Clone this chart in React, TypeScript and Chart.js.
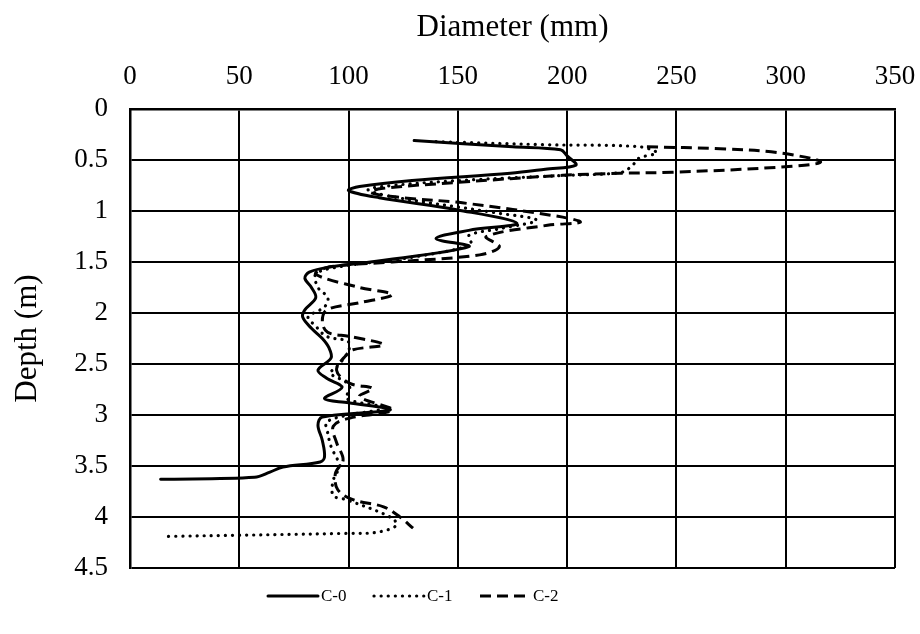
import React, { useEffect, useRef } from "react";
import { Chart, registerables } from "chart.js";

Chart.register(...registerables);

// C-0 (solid)
const c0Depth = [0.31, 0.37, 0.40, 0.46, 0.55, 0.59, 0.63, 0.70, 0.76, 0.80, 0.87, 0.99, 1.12, 1.19, 1.27, 1.35, 1.50, 1.55, 1.60, 1.66, 1.75, 1.85, 1.97, 2.04, 2.15, 2.25, 2.34, 2.44, 2.56, 2.64, 2.73, 2.84, 2.88, 2.95, 3.02, 3.10, 3.25, 3.41, 3.46, 3.51, 3.56, 3.61, 3.63];
const c0Diameter = [130, 175, 197, 200, 204, 190, 174, 129, 105, 100, 114, 150, 177, 155, 140, 155, 110, 91, 82, 80, 83, 85, 80, 79, 83, 88, 91, 92, 86, 90, 97, 89, 100, 119, 88, 86, 88, 89, 87, 70, 64, 57, 14];

// C-1 (dotted)
const c1Depth = [0.32, 0.35, 0.37, 0.43, 0.48, 0.55, 0.62, 0.65, 0.69, 0.74, 0.79, 0.86, 1.02, 1.09, 1.17, 1.24, 1.33, 1.45, 1.55, 1.62, 1.75, 1.85, 1.94, 2.04, 2.12, 2.23, 2.27, 2.31, 2.41, 2.54, 2.59, 2.68, 2.74, 2.84, 2.93, 3.00, 3.07, 3.18, 3.31, 3.44, 3.50, 3.64, 3.79, 3.83, 4.00, 4.08, 4.15, 4.16, 4.19];
const c1Diameter = [140, 190, 233, 241, 233, 230, 225, 200, 160, 125, 109, 120, 168, 186, 170, 155, 156, 130, 95, 85, 86, 90.5, 89, 81.5, 84.6, 90, 99, 100.6, 99, 94, 91.5, 99, 100.6, 99, 116, 100, 90, 90.5, 92, 95, 96, 93, 93, 99, 119, 122, 113, 100, 17];

// C-2 (dashed)
const c2Depth = [0.37, 0.39, 0.43, 0.52, 0.57, 0.62, 0.63, 0.65, 0.72, 0.78, 0.82, 0.87, 0.92, 1.06, 1.11, 1.14, 1.25, 1.35, 1.43, 1.50, 1.55, 1.62, 1.75, 1.82, 1.90, 1.97, 2.09, 2.19, 2.23, 2.31, 2.36, 2.41, 2.56, 2.69, 2.74, 2.82, 2.95, 3.03, 3.11, 3.27, 3.44, 3.57, 3.73, 3.83, 3.90, 4.00, 4.11];
const c2Diameter = [236.5, 270, 297, 316, 297, 248, 224, 198, 150, 115, 110, 125, 152, 198, 206, 191, 163, 169, 160, 120, 91, 85, 105, 120, 105, 90, 88, 90.5, 100.6, 116, 102, 99, 94.5, 100.6, 111, 105, 120, 100.6, 93, 94.5, 97.5, 94, 95, 102, 116, 123.5, 129.5];

const seriesNames = ["C-0", "C-1", "C-2"];
const xMin = 0, xMax = 350, xStep = 50;
const yMin = 0, yMax = 4.5, yStep = 0.5;

const FONT = "'Liberation Serif', 'Times New Roman', serif";

const styles = [
  { dash: [] as number[], cap: "round" as CanvasLineCap, width: 3 },
  { dash: [0.1, 7], cap: "round" as CanvasLineCap, width: 3.2 },
  { dash: [11, 6], cap: "butt" as CanvasLineCap, width: 3 },
];

const legendPlugin = {
  id: "bottomLegend",
  afterDraw(chart: any) {
    const ctx = chart.ctx as CanvasRenderingContext2D;
    const y = 596;
    const startX = 268;
    const pitch = 106;
    ctx.save();
    ctx.font = `17px ${FONT}`;
    ctx.fillStyle = "#000";
    ctx.textBaseline = "middle";
    seriesNames.forEach((name, i) => {
      const x0 = startX + i * pitch;
      ctx.beginPath();
      ctx.strokeStyle = "#000";
      ctx.lineWidth = styles[i].width;
      ctx.lineCap = styles[i].cap;
      ctx.setLineDash(styles[i].dash);
      ctx.moveTo(x0, y);
      ctx.lineTo(x0 + 50, y);
      ctx.stroke();
      ctx.setLineDash([]);
      ctx.fillText(name, x0 + 53, y + 1);
    });
    ctx.restore();
  },
};

export default function App() {
  const ref = useRef<HTMLCanvasElement>(null);
  useEffect(() => {
    const toPts = (xs: number[], ys: number[]) => xs.map((x, i) => ({ x, y: ys[i] }));
    const pts = [toPts(c0Diameter, c0Depth), toPts(c1Diameter, c1Depth), toPts(c2Diameter, c2Depth)];
    const chart = new Chart(ref.current!, {
      type: "scatter",
      data: {
        datasets: seriesNames.map((name, i) => ({
          label: name,
          data: pts[i],
          showLine: true,
          borderColor: "#000",
          backgroundColor: "#000",
          borderWidth: styles[i].width,
          borderDash: styles[i].dash,
          borderCapStyle: styles[i].cap,
          borderJoinStyle: "round",
          pointRadius: 0,
          pointHoverRadius: 0,
          tension: 0.35,
          fill: false,
        })),
      },
      plugins: [legendPlugin],
      options: {
        animation: false,
        responsive: false,
        maintainAspectRatio: false,
        layout: { padding: { left: 0, right: 25, top: 0, bottom: 66 } },
        scales: {
          x: {
            type: "linear",
            position: "top",
            min: xMin,
            max: xMax,
            afterFit: (scale: any) => {
              scale.height = 109;
              scale.paddingLeft = 0;
              scale.paddingRight = 0;
            },
            ticks: { stepSize: xStep, color: "#000", font: { family: FONT, size: 27 }, padding: 16 },
            grid: { color: "#000", lineWidth: 2, drawTicks: false },
            border: { color: "#000", width: 2.5 },
            title: { display: true, text: "Diameter (mm)", color: "#000", font: { family: FONT, size: 31 }, padding: { top: 9, bottom: 0 } },
          },
          y: {
            type: "linear",
            reverse: true,
            min: yMin,
            max: yMax,
            afterFit: (scale: any) => {
              scale.width = 130;
              scale.paddingTop = 0;
              scale.paddingBottom = 0;
            },
            ticks: {
              stepSize: yStep,
              color: "#000",
              font: { family: FONT, size: 27 },
              padding: 22,
              callback: (v: any) => String(Number(v)),
            },
            grid: { color: "#000", lineWidth: 2, drawTicks: false },
            border: { color: "#000", width: 2.5 },
            title: { display: true, text: "Depth (m)", color: "#000", font: { family: FONT, size: 31 }, padding: { top: 9, bottom: 0 } },
          },
        },
        plugins: {
          tooltip: { enabled: false },
          legend: { display: false },
        },
      },
    });
    return () => chart.destroy();
  }, []);
  return (
    <div style={{ position: "absolute", left: 0, top: 0, width: 920, height: 634, background: "#fff" }}>
      <canvas ref={ref} width={920} height={634} style={{ width: 920, height: 634 }} />
    </div>
  );
}
